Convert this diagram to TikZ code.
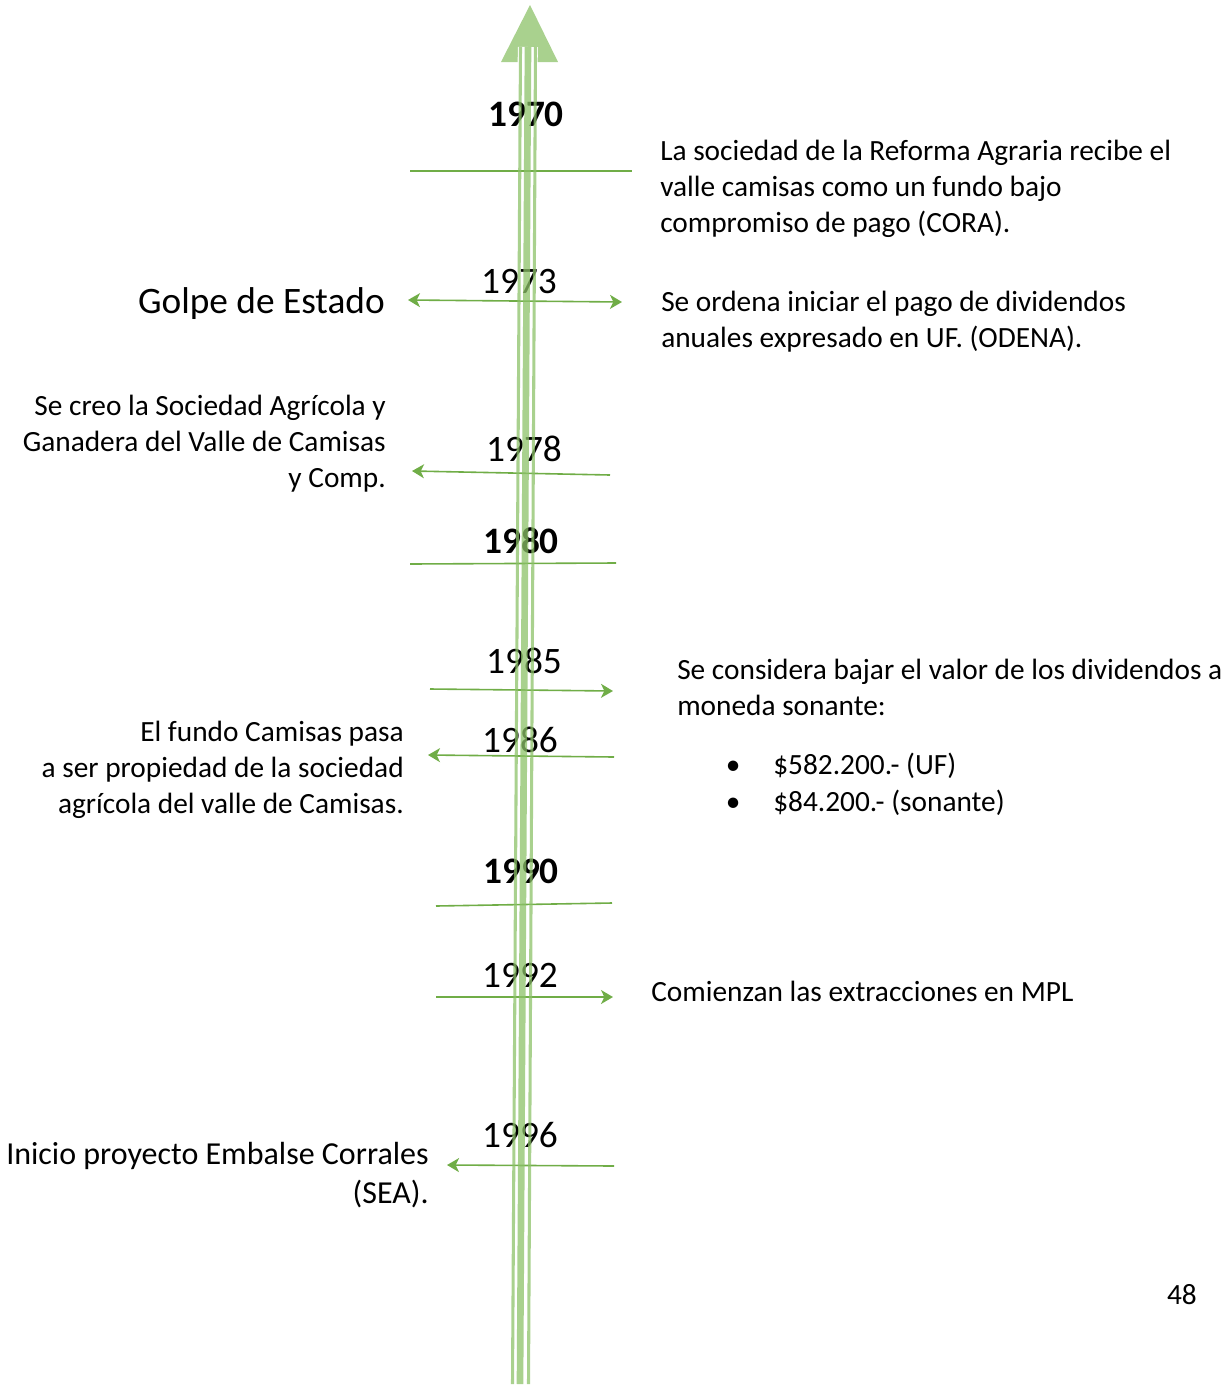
\documentclass[tikz,border=0pt]{standalone}
\usepackage{fontspec}
\setmainfont{Carlito}
\usetikzlibrary{arrows.meta}
\definecolor{shaftgreen}{RGB}{140,194,104}
\definecolor{headgreen}{RGB}{169,209,142}
\definecolor{conngreen}{RGB}{112,173,71}
\tikzset{
  bodytext/.style={inner sep=0pt, font=\fontsize{22}{27}\selectfont},
  midtext/.style={inner sep=0pt, font=\fontsize{24}{29.3}\selectfont},
  bigtext/.style={inner sep=0pt, font=\fontsize{28}{34}\selectfont},
  yearlbl/.style={inner sep=0pt, anchor=base, font=\fontsize{28}{34}\selectfont},
  yearbold/.style={inner sep=0pt, anchor=base, font=\fontsize{28}{34}\selectfont\bfseries},
  tickline/.style={draw=conngreen, line width=1.2pt},
  arrowend/.style={tickline, -{Stealth[length=9pt,width=10.5pt,inset=2.5pt]}},
  arrowboth/.style={tickline, {Stealth[length=9pt,width=10.5pt,inset=2.5pt]}-{Stealth[length=9pt,width=10.5pt,inset=2.5pt]}},
  thinshaft/.style={draw=shaftgreen, draw opacity=0.75, line width=2.3pt},
  thickshaft/.style={draw=shaftgreen, draw opacity=0.75, line width=5pt},
}
\begin{document}
\begin{tikzpicture}[x=0.75pt,y=-0.75pt]
\useasboundingbox (0,0) rectangle (1225,1385);

% ---- year labels
\node[yearbold] (y1970) at (526,126) {1970};
\node[yearlbl]  (y1973) at (519,293) {1973};
\node[yearlbl]  (y1978) at (524,461) {1978};
\node[yearbold] (y1980) at (521,553) {1980};
\node[yearlbl]  (y1985) at (524,673) {1985};
\node[yearlbl]  (y1986) at (520,752) {1986};
\node[yearbold] (y1990) at (521,883) {1990};
\node[yearlbl]  (y1992) at (520,987) {1992};
\node[yearlbl]  (y1996) at (520,1147) {1996};

% ---- event texts
\node[bodytext, anchor=base west] (cora) at (660,160.5) {\begin{tabular}[t]{@{}l@{}}La sociedad de la Reforma Agraria recibe el\\ valle camisas como un fundo bajo\\ compromiso de pago (CORA).\end{tabular}};
\node[bigtext, anchor=base east] (golpe) at (385,313) {Golpe de Estado};
\node[bodytext, anchor=base west] (odena) at (661,311.5) {\begin{tabular}[t]{@{}l@{}}Se ordena iniciar el pago de dividendos\\ anuales expresado en UF. (ODENA).\end{tabular}};
\node[bodytext, anchor=base east] (sociedad) at (386,415.5) {\begin{tabular}[t]{@{}r@{}}Se creo la Sociedad Agrícola y\\ Ganadera del Valle de Camisas\\ y Comp.\end{tabular}};
\node[bodytext, anchor=base west] (considera) at (677,679.5) {\begin{tabular}[t]{@{}l@{}}Se considera bajar el valor de los dividendos a\\ moneda sonante:\end{tabular}};
\node[bodytext, anchor=base west] (bullets) at (725.7,774.5) {\begin{tabular}[t]{@{}l@{}}\makebox[35.5pt][l]{•}\$582.200.- (UF)\\[0.75pt] \makebox[35.5pt][l]{•}\$84.200.- (sonante)\end{tabular}};
\node[bodytext, anchor=base east] (fundo) at (404,741.5) {\begin{tabular}[t]{@{}r@{}}El fundo Camisas pasa\\ a ser propiedad de la sociedad\\ agrícola del valle de Camisas.\end{tabular}};
\node[bodytext, anchor=base west] (mpl) at (651,1001.5) {Comienzan las extracciones en MPL};
\node[midtext, anchor=base east] (inicio) at (429,1164.5) {\begin{tabular}[t]{@{}r@{}}Inicio proyecto Embalse Corrales\\ (SEA).\end{tabular}};
\node[bodytext, anchor=base east] (pagenum) at (1197,1304.5) {48};

% ---- connector end points
\coordinate (c70a) at (410,171);  \coordinate (c70b) at (632,171);
\coordinate (c73a) at (408,300);  \coordinate (c73b) at (622,302);
\coordinate (c78a) at (610,475);  \coordinate (c78b) at (412,471);
\coordinate (c80a) at (410,564);  \coordinate (c80b) at (616,563);
\coordinate (c85a) at (430,689);  \coordinate (c85b) at (613,691);
\coordinate (c86a) at (614,757);  \coordinate (c86b) at (428,755);
\coordinate (c90a) at (436,906);  \coordinate (c90b) at (612,903);
\coordinate (c92a) at (436,997);  \coordinate (c92b) at (613,997);
\coordinate (c96a) at (614,1166); \coordinate (c96b) at (447,1165);

\draw[tickline]  (c70a) -- (c70b);
\draw[arrowboth] (c73a) -- (c73b);
\draw[arrowend]  (c78a) -- (c78b);
\draw[tickline]  (c80a) -- (c80b);
\draw[arrowend]  (c85a) -- (c85b);
\draw[arrowend]  (c86a) -- (c86b);
\draw[tickline]  (c90a) -- (c90b);
\draw[arrowend]  (c92a) -- (c92b);
\draw[arrowend]  (c96a) -- (c96b);

% ---- main timeline arrow
\coordinate (hTip) at (530,5);
\coordinate (hL) at (501,62);
\coordinate (hR) at (558,62);
\fill[headgreen] (hTip) -- (hR) -- (hL) -- cycle;
\coordinate (wA) at (527.6,63);
\coordinate (wB) at (528,47);
\draw[white, line width=15pt] (wA) -- (wB);

\coordinate (sLb) at (512.5,1384); \coordinate (sLt) at (520.5,47);
\coordinate (sMb) at (520,1384);   \coordinate (sMt) at (528,47);
\coordinate (sRb) at (528.5,1384); \coordinate (sRt) at (535.5,47);
\draw[thinshaft]  (sLb) -- (sLt);
\draw[thickshaft] (sMb) -- (sMt);
\draw[thinshaft]  (sRb) -- (sRt);
\end{tikzpicture}
\end{document}
